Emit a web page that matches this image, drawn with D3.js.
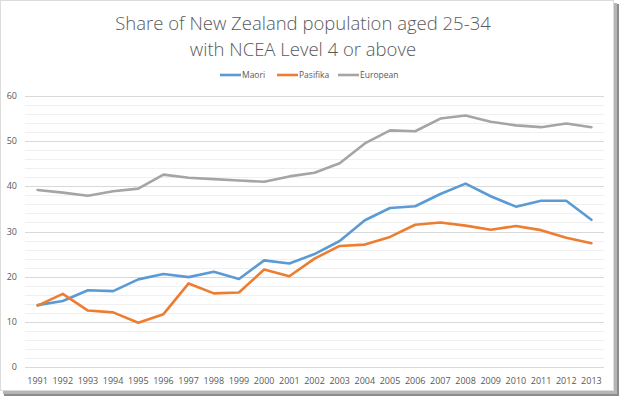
<!DOCTYPE html>
<html>
<head>
<meta charset="utf-8">
<script src="https://cdn.jsdelivr.net/npm/d3@7"></script>
<style>
  body { margin: 0; background: #fff; }
  svg { display: block; }
</style>
</head>
<body>
<div id="chart"></div>
<script>
// data
const years = d3.range(1991, 2014).map(String);
const maori    = [13.7, 14.6, 17.0, 16.8, 19.4, 20.6, 19.9, 21.1, 19.5, 23.6, 22.9, 25.0, 27.9, 32.5, 35.2, 35.6, 38.3, 40.6, 37.8, 35.5, 36.8, 36.8, 32.6];
const pasifika = [13.6, 16.2, 12.5, 12.1, 9.8, 11.7, 18.5, 16.3, 16.5, 21.6, 20.1, 24.0, 26.8, 27.1, 28.8, 31.5, 32.0, 31.3, 30.4, 31.2, 30.3, 28.6, 27.4];
const european = [39.2, 38.6, 37.9, 38.9, 39.5, 42.6, 41.9, 41.6, 41.3, 41.0, 42.2, 43.0, 45.1, 49.5, 52.4, 52.2, 55.0, 55.7, 54.3, 53.5, 53.1, 53.9, 53.1];
const seriesNames = ["Maori", "Pasifika", "European"];
const seriesColors = ["#5b9bd5", "#ed7d31", "#a5a5a5"];
const yTicks = [0, 10, 20, 30, 40, 50, 60];

const width = 620, height = 397;
const plot = { left: 25, right: 604, top: 96, bottom: 367 };

const svg = d3.select("#chart")
    .append("svg")
    .attr("width", width)
    .attr("height", height);

// frame with shadow
svg.append("rect").attr("x", 4).attr("y", 4).attr("width", 615).attr("height", 392).attr("fill", "#8c8c8c");
svg.append("rect").attr("x", 3).attr("y", 3).attr("width", 614).attr("height", 391).attr("fill", "#b5b5b5");
svg.append("rect").attr("x", 0.5).attr("y", 0.5).attr("width", 613).attr("height", 390)
    .attr("fill", "#fff").attr("stroke", "#dcdcdc");

const x = d3.scaleBand()
    .domain(years)
    .range([plot.left, plot.right]);

const y = d3.scaleLinear()
    .domain([0, 60])
    .range([plot.bottom, plot.top]);

// minor gridlines
svg.append("g")
    .selectAll("line")
    .data(d3.range(0, 61, 2).filter(v => v % 10 !== 0))
    .join("line")
    .attr("x1", plot.left).attr("x2", plot.right)
    .attr("y1", d => Math.round(y(d)) + 0.5).attr("y2", d => Math.round(y(d)) + 0.5)
    .attr("stroke", "#f0f0f0");

// major gridlines
svg.append("g")
    .selectAll("line")
    .data(yTicks)
    .join("line")
    .attr("x1", plot.left).attr("x2", plot.right)
    .attr("y1", d => Math.round(y(d)) + 0.5).attr("y2", d => Math.round(y(d)) + 0.5)
    .attr("stroke", "#d9d9d9");

// y labels
svg.append("g")
    .selectAll("text")
    .data(yTicks)
    .join("text")
    .attr("x", 17)
    .attr("y", d => y(d))
    .attr("dy", "0.35em")
    .attr("text-anchor", "end")
    .style("font-family", "'Open Sans', sans-serif")
    .style("font-size", "9px")
    .style("fill", "#595959")
    .text(d => d);

// x labels
svg.append("g")
    .selectAll("text")
    .data(years)
    .join("text")
    .attr("x", d => x(d) + x.bandwidth() / 2)
    .attr("y", 381)
    .attr("dy", "0.35em")
    .attr("text-anchor", "middle")
    .style("font-family", "'Open Sans', sans-serif")
    .style("font-size", "9px")
    .style("fill", "#595959")
    .text(d => d);

// lines
const line = d3.line()
    .x((d, i) => x(years[i]) + x.bandwidth() / 2)
    .y(d => y(d));

[maori, pasifika, european].forEach((vals, i) => {
    svg.append("path")
        .datum(vals)
        .attr("fill", "none")
        .attr("stroke", seriesColors[i])
        .attr("stroke-width", 2.6)
        .attr("stroke-linejoin", "round")
        .attr("stroke-linecap", "round")
        .attr("d", line);
});

// title
const title = svg.append("text")
    .attr("text-anchor", "middle")
    .style("font-family", "'Open Sans', sans-serif")
    .style("font-weight", 300)
    .style("font-size", "18.5px")
    .style("fill", "#595959");
title.append("tspan").attr("x", 303).attr("y", 30).text("Share of New Zealand population aged 25-34");
title.append("tspan").attr("x", 303).attr("y", 56).text("with NCEA Level 4 or above");

// legend
const legendX = [220, 277, 338];
const legend = svg.append("g")
    .selectAll("g")
    .data(seriesNames)
    .join("g")
    .attr("transform", (d, i) => `translate(${legendX[i]},75)`);

legend.append("line")
    .attr("x1", 0).attr("x2", 21)
    .attr("stroke", (d, i) => seriesColors[i])
    .attr("stroke-width", 2.6);

legend.append("text")
    .attr("x", 22)
    .attr("dy", "0.35em")
    .style("font-family", "'Open Sans', sans-serif")
    .style("font-size", "8.5px")
    .style("fill", "#595959")
    .text(d => d);
</script>
</body>
</html>
